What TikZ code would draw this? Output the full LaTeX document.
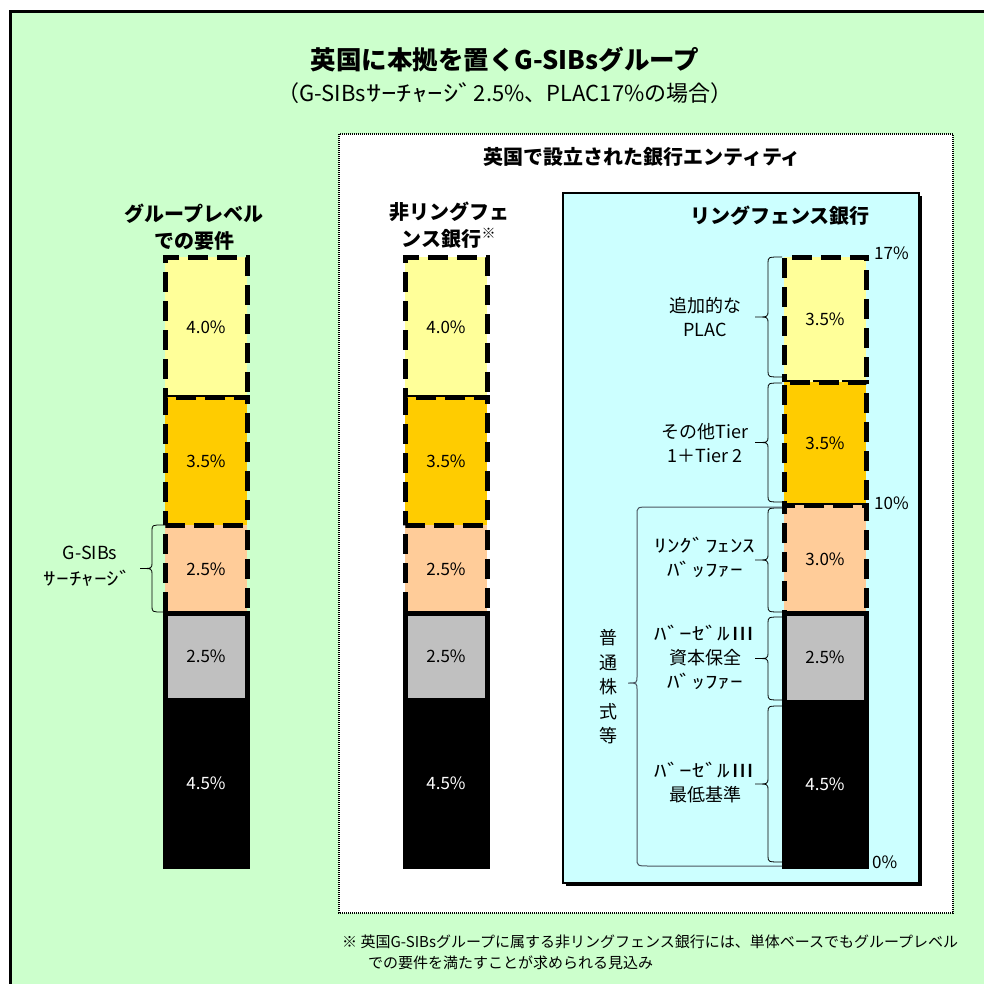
\documentclass[tikz,border=0pt]{standalone}
\usepackage{fontspec}
\setmainfont{Noto Sans CJK JP}
\newfontfamily\hwfont[FakeStretch=1.4]{Noto Sans CJK JP}
\definecolor{bggreen}{HTML}{CCFFCC}
\definecolor{rfcyan}{HTML}{CCFFFF}
\definecolor{segyellow}{HTML}{FFFF99}
\definecolor{segorange}{HTML}{FFCC00}
\definecolor{segpeach}{HTML}{FFCC99}
\definecolor{seggrey}{HTML}{C0C0C0}
\definecolor{bracegrey}{HTML}{4A5560}
\newcommand\myvbrace[6][]{%
  \draw[thinbrace,#1] (#2,#5) .. controls (#3,#5) .. ({#3},{#5+6})
    -- ({#3},{(#5+#6)/2-6}) .. controls ({#3},{(#5+#6)/2}) .. ({#4},{(#5+#6)/2})
    .. controls ({#3},{(#5+#6)/2}) .. ({#3},{(#5+#6)/2+6})
    -- ({#3},{#6-6}) .. controls (#3,#6) .. (#2,#6);}
\tikzset{
  seg/.style={inner sep=0pt, outer sep=0pt, minimum width=82pt, font=\fontsize{17}{20}\selectfont},
  dashedseg/.style={seg, draw=black, line width=5pt, dash pattern=on 20pt off 9pt},
  solidseg/.style={seg, draw=black, line width=5pt},
  coltitle/.style={font=\bfseries\fontsize{20}{27}\selectfont, align=center, inner sep=0pt},
  bracelabel/.style={font=\fontsize{18}{24}\selectfont, align=center, inner sep=0pt},
  pct/.style={font=\fontsize{17}{20}\selectfont, inner sep=0pt},
  thinbrace/.style={draw=black, line width=0.8pt},
}
\begin{document}
\begin{tikzpicture}[x=1pt,y=-1pt]
\useasboundingbox (0,0) rectangle (984,984);
\clip (0,0) rectangle (984,984);
\fill[white] (0,0) rectangle (984,984);
% outer frame
\draw[line width=3pt, fill=bggreen] (10.5,11.5) rectangle (1000,1000);
% titles
\node[font=\bfseries\fontsize{25.5}{29}\selectfont, inner sep=0pt] (title) at (505,60) {英国に本拠を置くG-SIBsグループ};
\node[font=\fontsize{22}{26}\selectfont, inner sep=0pt] (subtitle) at (505,93) {（G-SIBs{\hwfont ｻｰﾁｬｰｼﾞ}2.5\%、PLAC17\%の場合）};
% dotted entity box
\draw[line width=2.5pt, dash pattern=on 1pt off 1pt, fill=white] (339,134) rectangle (953,913);
\node[font=\bfseries\fontsize{20}{24}\selectfont, inner sep=0pt] (head) at (642,157) {英国で設立された銀行エンティティ};
% ring-fenced box
\fill[black] (566,196) rectangle (922,886);
\draw[fill=rfcyan, line width=1.2pt] (563,193) rectangle (919,883);
\node[font=\bfseries\fontsize{20}{24}\selectfont, inner sep=0pt] (rtitle) at (780,216) {リングフェンス銀行};
% column titles
\node[coltitle] (gtitle) at (194,227) {グループレベル\\での要件};
\node[coltitle] (ntitle) at (449,225) {非リングフェ\\ンス銀行\textsuperscript{※}};
% group-level bar
\node[dashedseg, fill=segyellow, minimum height=140pt] (L1) at (206,327) {4.0\%};
\node[dashedseg, fill=segorange, minimum height=128pt] (L2) at (206,461) {3.5\%};
\node[dashedseg, fill=segpeach, minimum height=88pt] (L3) at (206,569) {2.5\%};
\node[solidseg, fill=seggrey, minimum height=87pt] (L4) at (206,656.5) {2.5\%};
\node[solidseg, fill=black, text=white, minimum height=166pt] (L5) at (206,783) {4.5\%};
% non-ring-fenced bar
\node[dashedseg, fill=segyellow, minimum height=140pt] (N1) at (446,327) {4.0\%};
\node[dashedseg, fill=segorange, minimum height=128pt] (N2) at (446,461) {3.5\%};
\node[dashedseg, fill=segpeach, minimum height=88pt] (N3) at (446,569) {2.5\%};
\node[solidseg, fill=seggrey, minimum height=87pt] (N4) at (446,656.5) {2.5\%};
\node[solidseg, fill=black, text=white, minimum height=166pt] (N5) at (446,783) {4.5\%};
% ring-fenced bar
\node[dashedseg, fill=segyellow, minimum height=125pt] (R1) at (825,319.5) {3.5\%};
\node[dashedseg, fill=segorange, minimum height=123pt] (R2) at (825,443.5) {3.5\%};
\node[dashedseg, fill=segpeach, minimum height=108pt] (R3) at (825,559) {3.0\%};
\node[solidseg, fill=seggrey, minimum height=89pt] (R4) at (825,657.5) {2.5\%};
\node[solidseg, fill=black, text=white, minimum height=164pt] (R5) at (825,784) {4.5\%};
% percent marks
\node[pct, anchor=west] (p17) at (874,253) {17\%};
\node[pct, anchor=west] (p10) at (874,503) {10\%};
\node[pct, anchor=west] (p0) at (872,862) {0\%};
% G-SIBs surcharge brace
\myvbrace{163}{152}{140}{525}{612}
\node[bracelabel] (gsl1) at (90,553) {G-SIBs};
\node[bracelabel] (gsl2) at (88,578) {\hwfont ｻｰﾁｬｰｼﾞ};
% ring-fenced braces
\myvbrace{782}{768}{755}{257}{377}
\myvbrace{782}{768}{755}{383}{502}
\myvbrace{782}{768}{755}{508}{612}
\myvbrace{782}{768}{755}{617}{700}
\myvbrace{782}{768}{755}{706}{862}
\node[bracelabel] (b1) at (705,317) {追加的な\\PLAC};
\node[bracelabel] (b2) at (705,443) {その他Tier\\1＋Tier 2};
\node[bracelabel] (b3) at (705,557) {\hwfont ﾘﾝｸﾞﾌｪﾝｽ\\\hwfont ﾊﾞｯﾌｧｰ};
\node[bracelabel] (b4) at (705,657) {\hwfont ﾊﾞｰｾﾞﾙⅢ\\資本保全\\\hwfont ﾊﾞｯﾌｧｰ};
\node[bracelabel] (b5) at (705,783) {\hwfont ﾊﾞｰｾﾞﾙⅢ\\最低基準};
% CET1 big brace
\draw[draw=bracegrey, line width=1pt] (782,507) -- (650,507) .. controls (637,507) .. (637,515)
  -- (637,676) .. controls (637,683) .. (628,683) .. controls (637,683) .. (637,690)
  -- (637,858) .. controls (637,866) .. (650,866) -- (782,866);
\node[font=\fontsize{18}{24.5}\selectfont, align=center, inner sep=0pt] (cet1) at (608,687) {普\\通\\株\\式\\等};
% footnote
\node[font=\fontsize{15}{20}\selectfont, anchor=west, inner sep=0pt] (foot1) at (342,942) {※ 英国G-SIBsグループに属する非リングフェンス銀行には、単体ベースでもグループレベル};
\node[font=\fontsize{15}{20}\selectfont, anchor=west, inner sep=0pt] (foot2) at (368,963) {での要件を満たすことが求められる見込み};
\end{tikzpicture}
\end{document}
